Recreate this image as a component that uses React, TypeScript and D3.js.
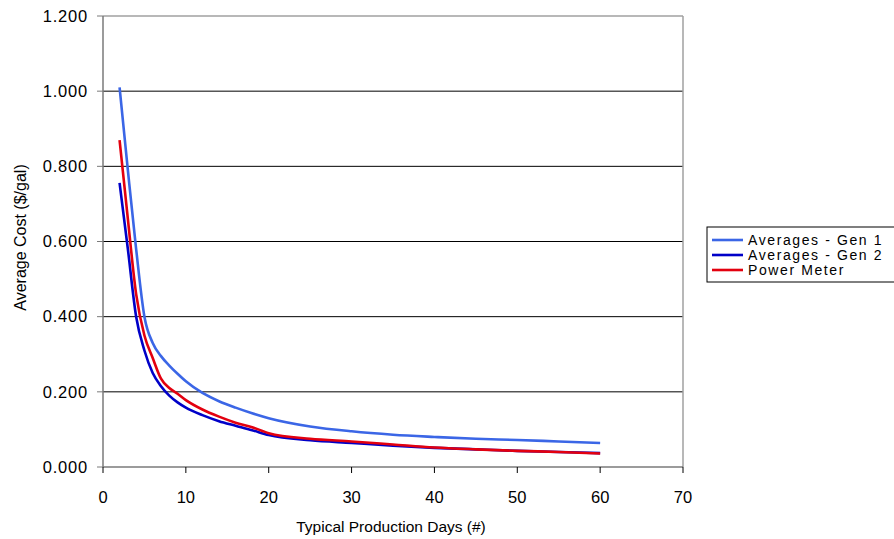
import React from "react";
import * as d3 from "d3";

const days = [2, 3, 4, 5, 6, 7, 8, 9, 10, 12, 14, 16, 18, 20, 25, 30, 35, 40, 45, 50, 55, 60];
const gen1 = [1.01, 0.79, 0.58, 0.4, 0.33, 0.295, 0.27, 0.248, 0.228, 0.197, 0.175, 0.158, 0.143, 0.13, 0.108, 0.095, 0.086, 0.08, 0.075, 0.072, 0.068, 0.064];
const gen2 = [0.756, 0.58, 0.4, 0.31, 0.25, 0.215, 0.19, 0.172, 0.158, 0.138, 0.122, 0.11, 0.098, 0.085, 0.071, 0.064, 0.057, 0.051, 0.047, 0.043, 0.04, 0.037];
const power = [0.87, 0.66, 0.46, 0.35, 0.29, 0.235, 0.21, 0.195, 0.178, 0.153, 0.134, 0.118, 0.106, 0.09, 0.075, 0.068, 0.06, 0.052, 0.047, 0.043, 0.04, 0.036];

const xTicks = [0, 10, 20, 30, 40, 50, 60, 70];
const yTicks = [0, 0.2, 0.4, 0.6, 0.8, 1.0, 1.2];

const seriesNames = ["Averages - Gen 1", "Averages - Gen 2", "Power Meter"];
const seriesColors = ["#3b66e6", "#0000c8", "#e3000f"];

export default function App() {
  const W = 894, H = 539;
  const left = 103, right = 683, top = 16, bottom = 467;
  const x = d3.scaleLinear().domain([0, 70]).range([left, right]);
  const y = d3.scaleLinear().domain([0, 1.2]).range([bottom, top]);
  const line = d3
    .line<[number, number]>()
    .x((d) => x(d[0]))
    .y((d) => y(d[1]))
    .curve(d3.curveMonotoneX);
  const series = [gen1, gen2, power];
  const font = "'Liberation Sans', Arial, sans-serif";
  const legX = 707, legY = 227;
  return (
    <svg
      width={W}
      height={H}
      style={{ position: "absolute", left: 0, top: 0, background: "#fff" }}
      fontFamily={font}
    >
      <rect x={0} y={0} width={W} height={H} fill="#fff" />
      {yTicks.slice(1, -1).map((t) => (
        <line key={t} x1={left} x2={right} y1={y(t)} y2={y(t)} stroke="#000" strokeWidth={1} />
      ))}
      <line x1={left} x2={right} y1={top} y2={top} stroke="#a0a0a0" strokeWidth={1.5} />
      <line x1={right} x2={right} y1={top} y2={bottom} stroke="#a0a0a0" strokeWidth={1.5} />
      <line x1={left} x2={left} y1={top} y2={bottom} stroke="#7a7a7a" strokeWidth={1.5} />
      <line x1={left} x2={right} y1={bottom} y2={bottom} stroke="#7a7a7a" strokeWidth={1.5} />
      {yTicks.map((t) => (
        <g key={t}>
          <line x1={left - 6} x2={left} y1={y(t)} y2={y(t)} stroke="#7a7a7a" strokeWidth={1} />
          <text x={88} y={y(t)} dy="0.35em" textAnchor="end" fontSize={16.5} letterSpacing={0.8} fill="#000">
            {t.toFixed(3)}
          </text>
        </g>
      ))}
      {xTicks.map((t) => (
        <g key={t}>
          <line x1={x(t)} x2={x(t)} y1={bottom} y2={bottom + 6} stroke="#000" strokeWidth={1} />
          <text x={x(t)} y={503} textAnchor="middle" fontSize={16.5} fill="#000">
            {t}
          </text>
        </g>
      ))}
      {series.map((s, i) => (
        <path
          key={i}
          d={line(days.map((d, j) => [d, s[j]] as [number, number])) || ""}
          fill="none"
          stroke={seriesColors[i]}
          strokeWidth={2.6}
        />
      ))}
      <text x={391} y={532} textAnchor="middle" fontSize={15.5} fill="#000">
        Typical Production Days (#)
      </text>
      <text
        transform={`translate(26,${(top + bottom) / 2 - 4}) rotate(-90)`}
        textAnchor="middle"
        fontSize={16}
        fill="#000"
      >
        Average Cost ($/gal)
      </text>
      <rect x={legX} y={legY} width={200} height={55} fill="#fff" stroke="#000" strokeWidth={1} />
      {seriesNames.map((n, i) => {
        const cy = legY + 13 + i * 15;
        return (
          <g key={n}>
            <line x1={712} x2={743} y1={cy} y2={cy} stroke={seriesColors[i]} strokeWidth={2.6} />
            <text x={748} y={cy} dy="0.36em" fontSize={14} letterSpacing={1.6} fill="#000">
              {n}
            </text>
          </g>
        );
      })}
    </svg>
  );
}
